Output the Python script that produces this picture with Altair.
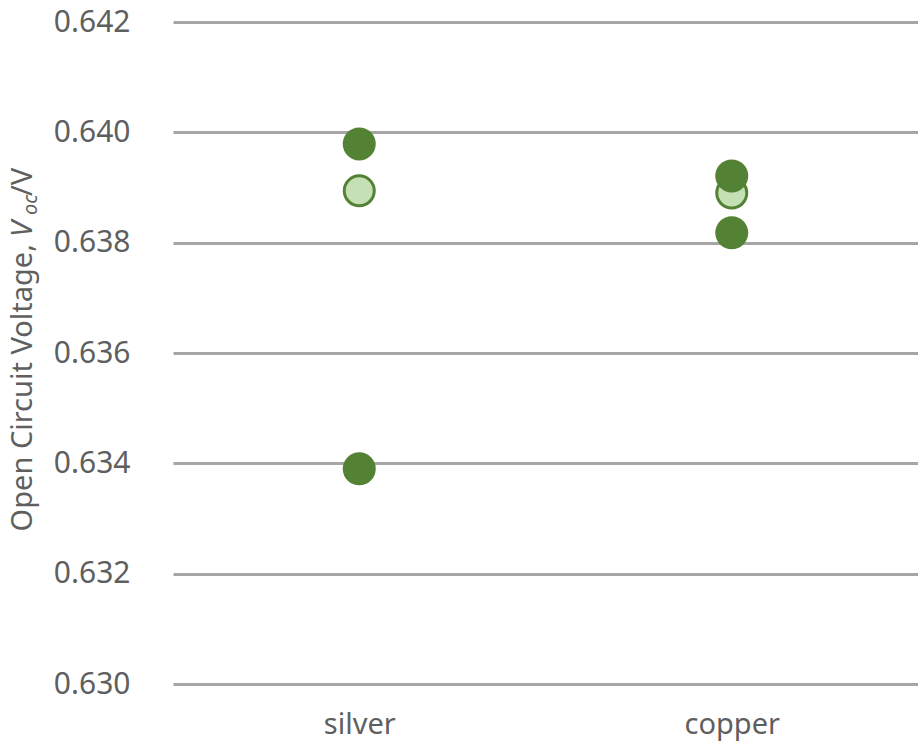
import altair as alt
import pandas as pd

# Open circuit voltage per contact metal
metals = ["silver", "copper"]
voc_dark = [[0.63979, 0.63390], [0.63921, 0.63818]]
voc_light = [[0.63894], [0.63890]]

rows = []
for m, vals in zip(metals, voc_light):
    for v in vals:
        rows.append({"metal": m, "voc": v, "series": "light"})
for m, vals in zip(metals, voc_dark):
    for v in vals:
        rows.append({"metal": m, "voc": v, "series": "dark"})
df = pd.DataFrame(rows)

FONT = "Noto Sans"
TEXT = "#5f5f5f"
GREEN = "#548235"
LIGHT = "#c5e0b4"
FS = 30

x_enc = alt.X(
    "metal:N",
    sort=metals,
    title=None,
    scale=alt.Scale(paddingInner=0, paddingOuter=0),
    axis=alt.Axis(labelAngle=0, labelFontSize=FS - 1, labelColor=TEXT, labelFont=FONT,
                  labelPadding=26, ticks=False, domain=False, grid=False),
)
y_enc = alt.Y(
    "voc:Q",
    title=None,
    scale=alt.Scale(domain=[0.630, 0.642], nice=False, zero=False),
    axis=alt.Axis(values=[0.630, 0.632, 0.634, 0.636, 0.638, 0.640, 0.642], format=".3f",
                  labelFontSize=FS, labelColor=TEXT, labelFont=FONT, labelPadding=43,
                  ticks=False, domain=False, grid=True, gridColor="#a6a6a6", gridWidth=3),
)

light = alt.Chart(df).transform_filter(alt.datum.series == "light").mark_point(
    shape="circle", filled=True, fill=LIGHT, stroke=GREEN, strokeWidth=3, size=900, opacity=1
).encode(x=x_enc, y=y_enc)

dark = alt.Chart(df).transform_filter(alt.datum.series == "dark").mark_point(
    shape="circle", filled=True, color=GREEN, size=1090, opacity=1
).encode(x=x_enc, y=y_enc)

# Rotated y-axis title in pieces so that V_oc can be italic with a subscript
title_parts = pd.DataFrame([{"k": 0}])
def tpart(text, y, dx=0, size=29, style="normal", align="left"):
    return alt.Chart(title_parts).mark_text(
        text=text, angle=270, align=align, baseline="alphabetic", font=FONT,
        fontSize=size, fontStyle=style, color=TEXT,
    ).encode(x=alt.value(-141 + dx), y=alt.value(y))

title_layers = [
    tpart("Open Circuit Voltage,", 222, align="right"),
    tpart("V", 215, style="italic"),
    tpart("oc", 193, dx=5, size=20, style="italic"),
    tpart("/V", 174),
]

chart = alt.layer(light, dark, *title_layers).properties(
    width=745, height=662,
    background="white",
    autosize=alt.AutoSizeParams(type="none"),
    padding={"left": 173, "top": 22, "right": 0, "bottom": 61},
).configure_view(strokeWidth=0, stroke="transparent").configure_axisX(
    grid=False, domain=False
).configure_axis(domain=False)

chart.save("out.html", embed_options={"renderer": "svg", "actions": False})
